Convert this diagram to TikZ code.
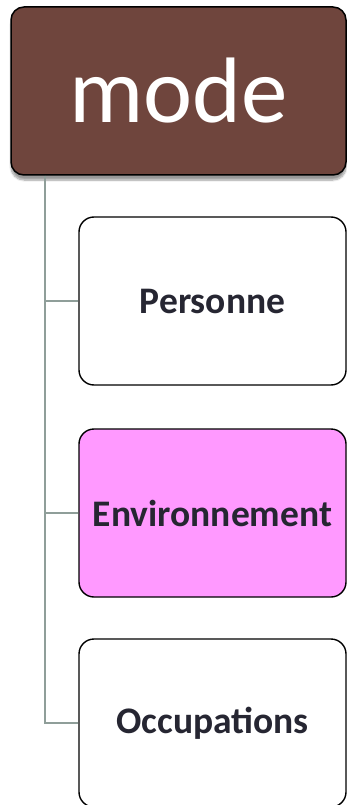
\documentclass[tikz,border=0pt]{standalone}
\usepackage{fontspec}
\setmainfont{Carlito}
\usetikzlibrary{shadows.blur}
\definecolor{rootbrown}{RGB}{111,69,61}
\definecolor{pinkfill}{RGB}{255,153,255}
\definecolor{linkgray}{RGB}{143,158,153}
\definecolor{labeldark}{RGB}{38,38,50}
\begin{document}
\begin{tikzpicture}[x=1pt,y=-1pt,
  rootbox/.style={draw=black,line width=1.5pt,fill=rootbrown,rounded corners=13pt,
    minimum width=335pt,minimum height=168pt,inner sep=0pt,
    blur shadow={shadow xshift=0pt,shadow yshift=-5pt,shadow blur steps=8,shadow opacity=40},
    text=white,font=\fontsize{93}{100}\selectfont},
  childbox/.style={draw=black,line width=1.4pt,fill=white,rounded corners=15pt,
    minimum width=267pt,minimum height=168pt,inner sep=0pt,
    text=labeldark,font=\fontsize{37.5}{40}\selectfont\bfseries},
  link/.style={draw=linkgray,line width=2pt}]
\useasboundingbox (0,0) rectangle (347,805);
\node[rootbox] (root) at (178.5,91) {\raisebox{-5pt}{mode}};
\node[childbox] (c1) at (212.5,301) {\raisebox{-2pt}{Personne}};
\node[childbox,fill=pinkfill] (c2) at (212.5,513) {\raisebox{-2pt}{Environnement}};
\node[childbox] (c3) at (212.5,723) {\raisebox{-2pt}{Occupations}};
\coordinate (trunk) at (45,0);
\draw[link] (trunk |- root.south) |- (c3.west);
\draw[link] (trunk |- c1.west) -- (c1.west);
\draw[link] (trunk |- c2.west) -- (c2.west);
\end{tikzpicture}
\end{document}
